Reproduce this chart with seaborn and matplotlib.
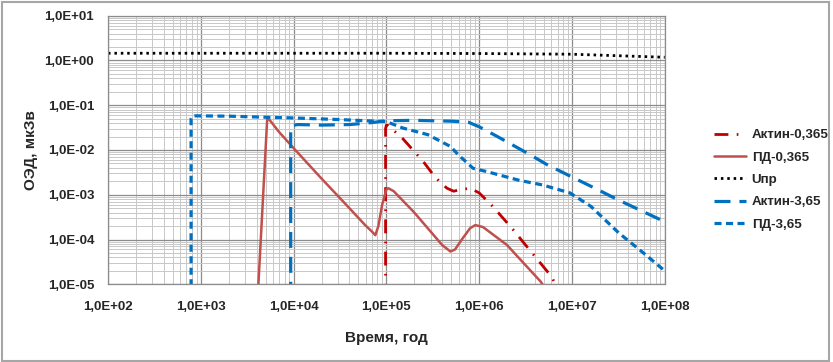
import numpy as np
import pandas as pd
import seaborn as sns
import matplotlib.pyplot as plt
from matplotlib.ticker import LogLocator, FuncFormatter, NullFormatter
from matplotlib.patches import Rectangle
from matplotlib.lines import Line2D

sns.set_style("white")
plt.rcParams['font.family'] = ['Liberation Sans', 'DejaVu Sans']
plt.rcParams['font.weight'] = 'bold'

# --- данные (годы, мкЗв) ---
upr_t = [1e2, 1e3, 1e4, 1e5, 1e6, 1e7, 3e7, 1e8]
upr_d = [1.45, 1.45, 1.45, 1.45, 1.43, 1.38, 1.28, 1.18]

pd365_t = [4.1e3, 5.2e3, 5.6e3, 7e3, 1e4, 2e4, 4e4, 5.9e4, 7e4, 7.6e4, 8.2e4, 9e4,
           1.0e5, 1.05e5, 1.2e5, 2e5, 3e5, 4e5, 4.9e5, 5.5e5, 6.5e5, 8e5, 9.1e5,
           1.1e6, 2e6, 3e6, 4.6e6, 6e6]
pd365_d = [5e-6, 0.052, 0.045, 0.025, 0.011, 2.3e-3, 5e-4, 2.1e-4, 1.5e-4, 1.25e-4, 2e-4, 6e-4,
           1.3e-3, 1.4e-3, 1.2e-3, 4e-4, 1.5e-4, 7.5e-5, 5.4e-5, 6e-5, 1e-4, 1.8e-4, 2.1e-4,
           1.9e-4, 7.5e-5, 3e-5, 1.15e-5, 5e-6]

akt365_t = [9.8e4, 9.8e4, 1.0e5, 1.05e5, 1.5e5, 2.5e5, 3.2e5, 3.8e5, 4.5e5, 5.3e5, 6.3e5,
            8e5, 1e6, 1.4e6, 2.3e6, 3e6, 4.9e6, 6e6, 7e6]
akt365_d = [5e-6, 0.03, 0.036, 0.035, 0.018, 0.0055, 2.8e-3, 1.9e-3, 1.4e-3, 1.2e-3, 1.3e-3,
            1.4e-3, 1.1e-3, 5.5e-4, 1.7e-4, 8.6e-5, 2.5e-5, 1.5e-5, 8e-6]

akt365b_t = [9.3e3, 9.3e3, 9.6e3, 1.1e4, 2e4, 4e4, 7e4, 1e5, 2e5, 5e5, 7.6e5, 1e6,
             1.57e6, 3.3e6, 5.4e6, 9.6e6, 1.9e7, 3.1e7, 1e8]
akt365b_d = [5e-6, 0.03, 0.035, 0.037, 0.036, 0.037, 0.041, 0.045, 0.046, 0.044, 0.042, 0.033,
             0.02, 0.0085, 0.0047, 0.0026, 0.0013, 7.8e-4, 2.5e-4]

pd365b_t = [785, 785, 810, 870, 2e3, 5e3, 1e4, 3e4, 1e5, 1.5e5, 2.8e5, 4.9e5, 6e5, 8.6e5,
            1.2e6, 2.7e6, 4.8e6, 9.5e6, 1.6e7, 3.2e7, 5.9e7, 1e8]
pd365b_d = [5e-6, 0.05, 0.057, 0.058, 0.057, 0.054, 0.052, 0.048, 0.043, 0.031, 0.022, 0.012,
            0.0077, 0.0039, 0.0033, 0.0021, 0.00166, 0.0011, 5.5e-4, 1.4e-4, 5e-5, 2e-5]

x_ticks = [1e2, 1e3, 1e4, 1e5, 1e6, 1e7, 1e8]
y_ticks = [1e-5, 1e-4, 1e-3, 1e-2, 1e-1, 1e0, 1e1]

labels = ['Актин-0,365', 'ПД-0,365', 'Uпр', 'Актин-3,65', 'ПД-3,65']

fig = plt.figure(figsize=(8.33, 3.62), dpi=100)
ax = fig.add_axes([0.1297, 0.2147, 0.6683, 0.7419])

series = [
    (akt365_t, akt365_d, '#c00000', 2.0, (0, (5, 3, 0.6, 3))),
    (pd365_t, pd365_d, '#c0504d', 1.8, '-'),
    (upr_t, upr_d, 'black', 2.0, (0, (0.9, 1.4))),
    (akt365b_t, akt365b_d, '#0070c0', 2.3, (0, (5, 2.8))),
    (pd365b_t, pd365b_d, '#0070c0', 2.3, (0, (2.2, 1.4))),
]
handles = []
for (t, d, c, lw, ls), lab in zip(series, labels):
    df = pd.DataFrame({'t': t, 'd': d})
    sns.lineplot(data=df, x='t', y='d', sort=False, estimator=None, ax=ax,
                 color=c, linewidth=lw, linestyle=ls)
    handles.append(Line2D([], [], color=c, linewidth=lw, linestyle=ls))

ax.set_xscale('log')
ax.set_yscale('log')
ax.set_xlim(1e2, 1e8)
ax.set_ylim(1e-5, 1e1)

fmt = FuncFormatter(lambda v, p: ('%.1E' % v).replace('.', ','))
ax.set_xticks(x_ticks)
ax.set_yticks(y_ticks)
ax.xaxis.set_minor_locator(LogLocator(base=10, subs=np.arange(2, 10), numticks=100))
ax.yaxis.set_minor_locator(LogLocator(base=10, subs=np.arange(2, 10), numticks=100))
ax.xaxis.set_major_formatter(fmt)
ax.yaxis.set_major_formatter(fmt)
ax.xaxis.set_minor_formatter(NullFormatter())
ax.yaxis.set_minor_formatter(NullFormatter())

ax.grid(which='major', color='#8c8c8c', linewidth=0.9)
ax.grid(which='minor', color='#c8c8c8', linewidth=0.7)
ax.set_axisbelow(True)
ax.tick_params(which='major', length=3, color='#8c8c8c', labelsize=9.5)
ax.tick_params(axis='x', which='major', pad=9)
ax.tick_params(axis='y', which='major', pad=7)
ax.tick_params(which='minor', length=0)
for s in ax.spines.values():
    s.set_color('#8c8c8c')
    s.set_linewidth(0.9)

ax.set_xlabel('Время, год', fontsize=11, fontweight='bold', labelpad=13)
ax.set_ylabel('ОЭД, мкЗв', fontsize=11, fontweight='bold', labelpad=5)

fig.legend(handles, labels, loc='upper left', bbox_to_anchor=(0.8487, 0.662),
           frameon=False, handlelength=2.4, handletextpad=0.45, borderpad=0,
           labelspacing=0.75, prop={'weight': 'bold', 'size': 9.6})

fig.patches.append(Rectangle((0.002, 0.004), 0.993, 0.99, transform=fig.transFigure,
                             fill=False, edgecolor='#a6a6a6', linewidth=1.5))

fig.savefig('out.png', dpi=100)
